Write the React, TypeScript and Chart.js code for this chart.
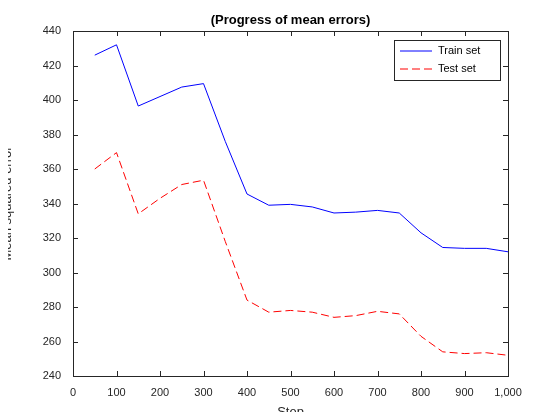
import { useEffect, useRef } from "react";
import { Chart, registerables } from "chart.js";

Chart.register(...registerables);

const steps = [50, 100, 150, 200, 250, 300, 350, 400, 450, 500, 550, 600, 650, 700, 750, 800, 850, 900, 950, 1000];
const trainSet = [426, 432, 396.5, 402, 407.5, 409.5, 376, 345.5, 339, 339.5, 338, 334.5, 335, 336, 334.5, 323, 314.5, 314, 314, 312];
const testSet = [360, 369.5, 334, 343, 351, 353.5, 318, 284, 277, 278, 277, 274, 275, 277.5, 276, 263, 254, 253, 253.5, 252];

const font = "'Liberation Sans', Arial, sans-serif";
const ink = "#262626";

const frame = {
	id: "frame",
	afterDraw(chart: Chart) {
		const { ctx, chartArea: a, scales } = chart;
		ctx.save();
		ctx.strokeStyle = ink;
		ctx.lineWidth = 1;
		ctx.strokeRect(a.left + 0.5, a.top + 0.5, a.right - a.left, a.bottom - a.top);
		// inward ticks
		ctx.beginPath();
		for (const t of scales.x.ticks) {
			const px = Math.round(scales.x.getPixelForValue(t.value)) + 0.5;
			ctx.moveTo(px, a.bottom); ctx.lineTo(px, a.bottom - 5);
			ctx.moveTo(px, a.top); ctx.lineTo(px, a.top + 5);
		}
		for (const t of scales.y.ticks) {
			const py = Math.round(scales.y.getPixelForValue(t.value)) + 0.5;
			ctx.moveTo(a.left, py); ctx.lineTo(a.left + 5, py);
			ctx.moveTo(a.right, py); ctx.lineTo(a.right - 5, py);
		}
		ctx.stroke();
		// title
		ctx.fillStyle = "#000";
		ctx.font = `bold 13px ${font}`;
		ctx.textAlign = "center";
		ctx.textBaseline = "bottom";
		ctx.fillText("(Progress of mean errors)", (a.left + a.right) / 2, a.top - 4);
		// legend
		const lx = 394, ly = 40, lw = 106, lh = 40;
		ctx.fillStyle = "#fff";
		ctx.fillRect(lx, ly, lw, lh);
		ctx.strokeStyle = ink;
		ctx.strokeRect(lx + 0.5, ly + 0.5, lw, lh);
		ctx.font = `11px ${font}`;
		ctx.textAlign = "left";
		ctx.textBaseline = "middle";
		const items = [
			{ label: "Train set", color: "#0000ff", dash: [] as number[] },
			{ label: "Test set", color: "#ff0000", dash: [8, 4] },
		];
		items.forEach((it, i) => {
			const y = ly + 11 + i * 18;
			ctx.strokeStyle = it.color;
			ctx.setLineDash(it.dash);
			ctx.beginPath();
			ctx.moveTo(lx + 6, y); ctx.lineTo(lx + 38, y);
			ctx.stroke();
			ctx.setLineDash([]);
			ctx.fillStyle = "#000";
			ctx.fillText(it.label, lx + 44, y);
		});
		ctx.restore();
	},
};

export default function App() {
	const chartRef = useRef<HTMLCanvasElement>(null);

	useEffect(() => {
		if (!chartRef.current) return;
		const chart = new Chart(chartRef.current, {
			type: "line",
			data: {
				datasets: [
					{
						label: "Train set",
						data: steps.map((s, i) => ({ x: s, y: trainSet[i] })),
						borderColor: "#0000ff",
						borderWidth: 1,
						pointRadius: 0,
						tension: 0,
					},
					{
						label: "Test set",
						data: steps.map((s, i) => ({ x: s, y: testSet[i] })),
						borderColor: "#ff0000",
						borderWidth: 1,
						borderDash: [8, 4],
						pointRadius: 0,
						tension: 0,
					},
				],
			},
			options: {
				responsive: false,
				animation: false,
				layout: { padding: { top: 31, right: 52, left: 0, bottom: 0 } },
				plugins: { legend: { display: false }, tooltip: { enabled: false } },
				scales: {
					x: {
						type: "linear",
						min: 0,
						max: 1000,
						grid: { display: false },
						border: { display: false },
						ticks: { stepSize: 100, color: ink, font: { family: font, size: 11 }, padding: 2 },
						title: { display: true, text: "Step", color: ink, font: { family: font, size: 13 }, padding: 0 },
						afterFit: (s) => { s.height = 44; },
					},
					y: {
						min: 240,
						max: 440,
						grid: { display: false },
						border: { display: false },
						ticks: { stepSize: 20, color: ink, font: { family: font, size: 11 }, padding: 4 },
						title: { display: true, text: "Mean squared error", color: ink, font: { family: font, size: 13 }, padding: 0 },
						afterFit: (s) => { s.width = 73; },
					},
				},
			},
			plugins: [frame],
		});
		return () => chart.destroy();
	}, []);

	return (
		<div style={{ margin: -8, background: "#fff", width: 560, height: 420 }}>
			<canvas ref={chartRef} width={560} height={420} />
		</div>
	);
}
